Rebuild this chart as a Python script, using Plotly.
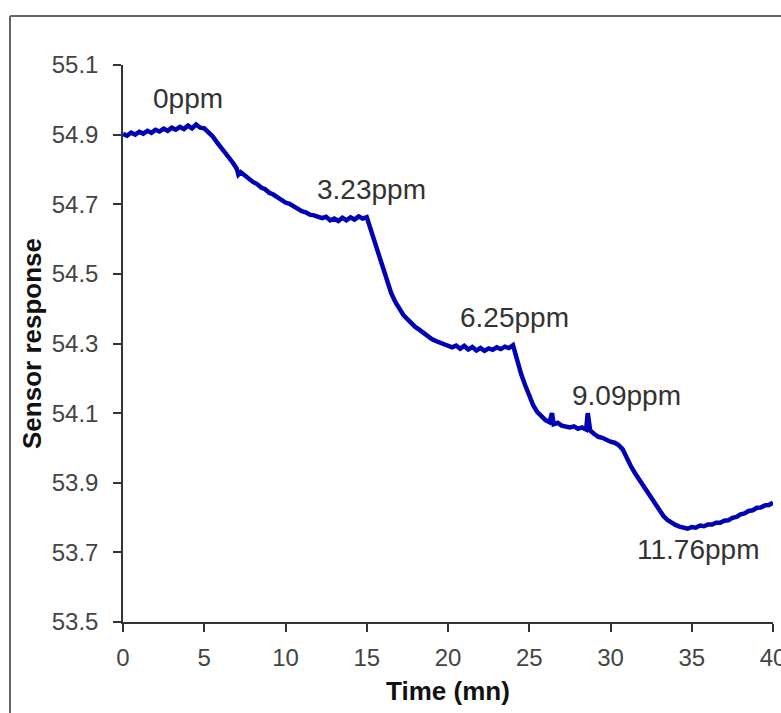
import plotly.graph_objects as go

# ---- data ----
time_min = [
    0.0, 0.25, 0.5, 0.75, 1.0, 1.25, 1.5, 1.75, 2.0, 2.25, 2.5, 2.75, 3.0, 3.25, 3.5, 3.75,
    4.0, 4.25, 4.5, 4.75, 5.0, 5.25, 5.5, 5.75, 6.0, 6.25, 6.5, 6.75, 7.0, 7.1, 7.25, 7.5, 7.75,
    8.0, 8.25, 8.5, 8.75, 9.0, 9.25, 9.5, 9.75, 10.0, 10.25, 10.5, 10.75, 11.0, 11.25, 11.5, 11.75,
    12.0, 12.25, 12.5, 12.75, 13.0, 13.25, 13.5, 13.75, 14.0, 14.25, 14.5, 14.75, 15.0, 15.25, 15.5, 15.75,
    16.0, 16.25, 16.5, 16.75, 17.0, 17.25, 17.5, 17.75, 18.0, 18.25, 18.5, 18.75, 19.0, 19.25, 19.5, 19.75,
    20.0, 20.25, 20.5, 20.75, 21.0, 21.25, 21.5, 21.75, 22.0, 22.25, 22.5, 22.75, 23.0, 23.25, 23.5, 23.75,
    24.0, 24.25, 24.5, 24.75, 25.0, 25.25, 25.5, 25.75, 26.0, 26.25, 26.4, 26.5, 26.75, 27.0, 27.25, 27.5, 27.75,
    28.0, 28.25, 28.5, 28.6, 28.75, 29.0, 29.25, 29.5, 29.75, 30.0, 30.25, 30.5, 30.75, 31.0, 31.25, 31.5, 31.75,
    32.0, 32.25, 32.5, 32.75, 33.0, 33.25, 33.5, 33.75, 34.0, 34.25, 34.5, 34.75, 35.0, 35.25, 35.5, 35.75,
    36.0, 36.25, 36.5, 36.75, 37.0, 37.25, 37.5, 37.75, 38.0, 38.25, 38.5, 38.75, 39.0, 39.25, 39.5, 39.75, 40.0,
]
sensor_response = [
    54.902, 54.897, 54.906, 54.900, 54.908, 54.903, 54.911, 54.905, 54.914, 54.909, 54.917, 54.911, 54.920, 54.914, 54.922, 54.916,
    54.926, 54.918, 54.929, 54.920, 54.918, 54.908, 54.896, 54.880, 54.866, 54.850, 54.834, 54.820, 54.802, 54.785, 54.792, 54.782, 54.773,
    54.764, 54.758, 54.748, 54.743, 54.733, 54.728, 54.719, 54.714, 54.705, 54.701, 54.693, 54.688, 54.680, 54.677, 54.670, 54.668,
    54.663, 54.660, 54.664, 54.654, 54.659, 54.652, 54.661, 54.654, 54.662, 54.656, 54.665, 54.659, 54.663, 54.625, 54.595, 54.550,
    54.515, 54.478, 54.445, 54.420, 54.400, 54.382, 54.370, 54.357, 54.347, 54.339, 54.330, 54.320, 54.313, 54.307, 54.302, 54.297,
    54.295, 54.289, 54.294, 54.285, 54.293, 54.283, 54.290, 54.280, 54.287, 54.279, 54.286, 54.282, 54.289, 54.284, 54.291, 54.287,
    54.295, 54.250, 54.212, 54.180, 54.150, 54.122, 54.103, 54.090, 54.080, 54.074, 54.100, 54.068, 54.072, 54.064, 54.063, 54.059, 54.062,
    54.055, 54.059, 54.053, 54.100, 54.050, 54.040, 54.032, 54.029, 54.023, 54.018, 54.015, 54.008, 53.996, 53.968, 53.948, 53.928, 53.910,
    53.895, 53.875, 53.858, 53.838, 53.820, 53.805, 53.793, 53.784, 53.779, 53.774, 53.772, 53.768, 53.773, 53.771, 53.777, 53.775,
    53.780, 53.780, 53.785, 53.785, 53.791, 53.792, 53.799, 53.802, 53.809, 53.812, 53.819, 53.821, 53.828, 53.829, 53.835, 53.836, 53.843,
]

label_text = ["0ppm", "3.23ppm", "6.25ppm", "9.09ppm", "11.76ppm"]
label_x = [4.0, 15.3, 24.1, 31.0, 35.4]
label_y = [55.005, 54.741, 54.376, 54.152, 53.707]

y_ticks = [53.5, 53.7, 53.9, 54.1, 54.3, 54.5, 54.7, 54.9, 55.1]
x_ticks = [0, 5, 10, 15, 20, 25, 30, 35, 40]

fig = go.Figure()
fig.add_trace(go.Scatter(
    x=time_min, y=sensor_response, mode="lines",
    line=dict(color="#0000B4", width=4.5),
    showlegend=False,
))

for t, xx, yy in zip(label_text, label_x, label_y):
    fig.add_annotation(x=xx, y=yy, text=t, showarrow=False,
                       font=dict(family="Liberation Sans, Arial", size=28, color="#333333"))

# outer frame (left and top edges)
frame_x = (10 - 123) / 650
frame_top = (622 - 16) / 557
fig.add_shape(type="line", xref="paper", yref="paper", x0=frame_x, x1=frame_x,
              y0=frame_top, y1=-0.3, line=dict(color="#666666", width=2))
fig.add_shape(type="line", xref="paper", yref="paper", x0=frame_x, x1=1.2,
              y0=frame_top, y1=frame_top, line=dict(color="#666666", width=2))

fig.update_layout(
    width=781, height=713,
    margin=dict(l=123, r=8, t=65, b=91),
    paper_bgcolor="white", plot_bgcolor="white",
    font=dict(family="Liberation Sans, Arial", color="#444444"),
    xaxis=dict(
        range=[0, 40], tickvals=x_ticks, ticktext=[str(v) for v in x_ticks],
        showgrid=False, zeroline=False, showline=True, linecolor="#333333", linewidth=1.5,
        ticks="outside", ticklen=8, tickwidth=1.5, tickcolor="#333333",
        tickfont=dict(size=24, color="#444444"), ticklabelstandoff=5,
        ticklabeloverflow="allow", automargin=False,
        title=dict(text="<b>Time (mn)</b>", font=dict(size=26, color="#111111"), standoff=12),
    ),
    yaxis=dict(
        range=[53.5, 55.1], tickvals=y_ticks, ticktext=[f"{v:.1f}" for v in y_ticks],
        showgrid=False, zeroline=False, showline=True, linecolor="#333333", linewidth=1.5,
        ticks="outside", ticklen=8, tickwidth=1.5, tickcolor="#333333",
        tickfont=dict(size=24, color="#444444"), ticklabelstandoff=10,
        automargin=False,
        title=dict(text="<b>Sensor response</b>", font=dict(size=26, color="#111111"), standoff=3),
    ),
)

fig.write_html("out.html")
